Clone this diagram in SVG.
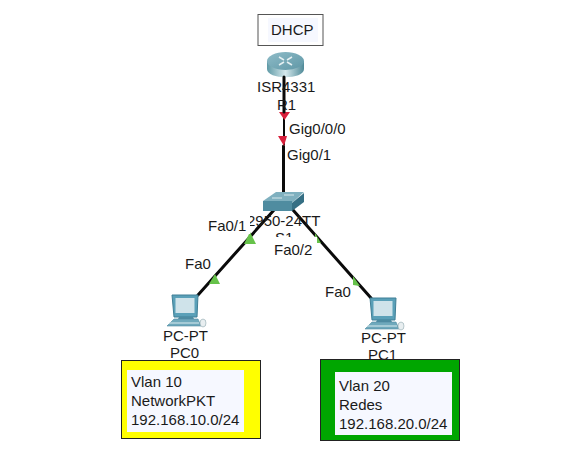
<svg xmlns="http://www.w3.org/2000/svg" width="587" height="457" viewBox="0 0 587 457">
<defs>
<linearGradient id="rt" x1="0" x2="1" y1="0" y2="0"><stop offset="0" stop-color="#5f9aa6"/><stop offset=".5" stop-color="#d5e8ec"/><stop offset="1" stop-color="#4f8a98"/></linearGradient>
<linearGradient id="rtop" x1="0" x2="1" y1="0" y2="1"><stop offset="0" stop-color="#8fbcc8"/><stop offset="1" stop-color="#5f97a6"/></linearGradient>
<g id="pc">
<path d="M0,0 H26 L25,22 H2 Z" fill="#5aa0b8" stroke="#3f7f96" stroke-width="1"/>
<rect x="3.500" y="3" width="19" height="15" fill="#cfe3ea"/>
<path d="M7,22 H21 L22,24 H6 Z" fill="#4d8ba1"/>
<path d="M2,24 H26 L29,31 H-5 Z" fill="#6fa9bc" stroke="#4d8ba1" stroke-width=".6"/>
<path d="M-3,28 H27" stroke="#dcecf0" stroke-width="1"/>
<ellipse cx="31" cy="28" rx="3" ry="4" fill="#e8eef0" stroke="#8fa7af" stroke-width=".6"/>
</g>
</defs>
<style>
text{font-family:"Liberation Sans",Arial,sans-serif;font-size:15px;fill:#1a1a1a}
.lnk{stroke:#0a0a0a;stroke-width:3;fill:none;stroke-linecap:round}
.thin{stroke:#0a0a0a;stroke-width:2;fill:none}
.up{fill:#d8203c}.gn{fill:#66c24a}
.panel{fill:#f6f8ff}
.frame{stroke:#222;stroke-width:1}
</style>
<rect width="587" height="457" fill="#fff"/>
<g id="connectors">
<path class="thin" d="M284,112 V145"/>
<path class="lnk" d="M283.500,146 V192"/>
<path class="lnk" d="M274,210 L198,295"/>
<path class="lnk" d="M293,210 L371,298"/>
<path class="up" d="M279,112 H290 L284.500,120 Z"/>
<path class="up" d="M278,136 H287 L284,146 Z"/>
<path class="gn" d="M250,232 L256,244 H244 Z"/>
<path class="gn" d="M215,274 L220,284 H209 Z"/>
<path class="gn" d="M315,233 L321,243 L315,243 Z"/>
<path class="gn" d="M353,276 L360,286 L353,285 Z"/>
</g>
<g id="DHCP-note">
<rect x="258" y="14.500" width="65" height="31" fill="#fff" stroke="#555" stroke-width="1"/>
<rect x="268" y="18" width="50" height="24" class="panel"/>
<text x="271" y="35">DHCP</text>
</g>
<g id="R1">
<path d="M267,61 V69 C267,80 304,80 304,69 V61 Z" fill="url(#rt)"/>
<ellipse cx="285.500" cy="61" rx="18.500" ry="9" fill="url(#rtop)"/>
<path d="M279,57 L284,60 M292,57 L287,60 M279,65 L284,62 M292,65 L287,62" stroke="#e6f0f2" stroke-width="1.500"/>
<path class="lnk" d="M284,77 V112"/>
<text x="257" y="92">ISR4331</text>
<text x="277" y="110">R1</text>
</g>
<g id="S1">
<path d="M263,201 L276,192 H304 L292,203 Z" fill="#7fb0bf"/>
<path d="M263,201 H292 V211 H263 Z" fill="#4f8ca0"/>
<path d="M292,203 L304,193 V202 L292,211 Z" fill="#356f84"/>
<path d="M272,198 L282,198 M284,195 L294,195" stroke="#d7e8ec" stroke-width="1"/>
<text x="247" y="226">2950-24TT</text>
<text x="275" y="243">S1</text>
</g>
<g id="link-labels">
<text x="289" y="134">Gig0/0/0</text>
<text x="287" y="160">Gig0/1</text>
<rect x="206" y="216" width="44" height="18" fill="#fff"/>
<text x="208" y="231">Fa0/1</text>
<rect x="272" y="237" width="45" height="20" fill="#fff"/>
<text x="274" y="255">Fa0/2</text>
<text x="185" y="269">Fa0</text>
<text x="325" y="297">Fa0</text>
</g>
<g id="PC0">
<use href="#pc" x="172" y="295"/>
<text x="163" y="341">PC-PT</text>
<text x="170" y="358">PC0</text>
</g>
<g id="PC1">
<use href="#pc" x="370" y="298"/>
<text x="361" y="343">PC-PT</text>
<text x="368" y="360">PC1</text>
</g>
<g id="vlan10">
<rect x="121.500" y="360.500" width="139" height="78" fill="#ffff00" class="frame"/>
<rect x="127" y="370" width="117" height="62" class="panel"/>
<text x="131" y="387">Vlan 10</text>
<text x="131" y="406">NetworkPKT</text>
<text x="131" y="425">192.168.10.0/24</text>
</g>
<g id="vlan20">
<rect x="320.500" y="359.500" width="139" height="81" fill="#00a600" class="frame"/>
<rect x="335" y="372" width="117" height="63" class="panel"/>
<text x="339" y="391">Vlan 20</text>
<text x="339" y="410">Redes</text>
<text x="339" y="429">192.168.20.0/24</text>
</g>
</svg>
